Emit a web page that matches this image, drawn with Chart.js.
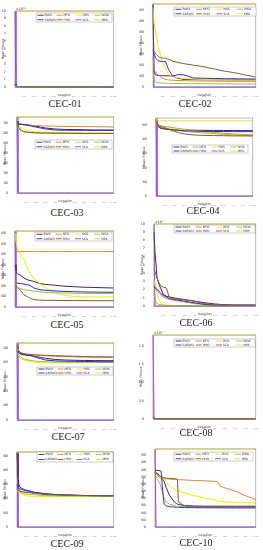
<!DOCTYPE html>
<html lang="en">
<head>
<meta charset="UTF-8">
<title>CEC convergence</title>
<script src="https://cdn.jsdelivr.net/npm/chart.js"></script>
<style>
  body { margin: 0; width: 263px; height: 550px; background: #fff; position: relative; overflow: hidden; }
  canvas { position: absolute; }
  .cap { position: absolute; font-family: 'Liberation Serif', serif; font-size: 10px; color: #222; transform: translate(-50%, -50%); white-space: nowrap; }
</style>
</head>
<body>
<script>
// legend names and series colours
const algos = ['BWO', 'MFO', 'HGS', 'WOA', 'SABWO', 'HHO', 'SCA', 'MPA'];
const colors = ['#4b2346', '#d08a3c', '#f2ea00', '#8cc63f', '#2a2ae0', '#8b5a2b', '#a23cf0', '#e4dc3a'];

// iterations sampled off the curves
const iters = [1, 2, 3, 4, 6, 8, 10, 13, 16, 20, 25, 30, 40, 50, 60, 70, 80, 90, 100];
const iters10 = [1, 2, 4, 6, 7, 8, 9, 10, 12, 15, 20, 22, 23, 24, 30, 40, 50, 62, 63, 65, 70, 80, 90, 100];
const xTicks = [10, 20, 30, 40, 50, 60, 70, 80, 90, 100];

// mean fitness, one row per algorithm (same order as algos)
const cec01 = [
  [0.35, 0.12, 0.08, 0.06, 0.05, 0.04, 0.04, 0.03, 0.03, 0.03, 0.02, 0.02, 0.02, 0.02, 0.02, 0.02, 0.02, 0.02, 0.02],
  [0.25, 0.10, 0.07, 0.05, 0.04, 0.03, 0.03, 0.03, 0.02, 0.02, 0.02, 0.02, 0.02, 0.01, 0.01, 0.01, 0.01, 0.01, 0.01],
  [0.30, 0.08, 0.05, 0.04, 0.03, 0.03, 0.02, 0.02, 0.02, 0.02, 0.02, 0.01, 0.01, 0.01, 0.01, 0.01, 0.01, 0.01, 0.01],
  [0.20, 0.06, 0.04, 0.03, 0.03, 0.02, 0.02, 0.02, 0.02, 0.01, 0.01, 0.01, 0.01, 0.01, 0.01, 0.01, 0.01, 0.01, 0.01],
  [0.40, 0.15, 0.10, 0.07, 0.05, 0.04, 0.03, 0.03, 0.02, 0.02, 0.02, 0.02, 0.01, 0.01, 0.01, 0.01, 0.01, 0.01, 0.01],
  [0.28, 0.11, 0.08, 0.06, 0.05, 0.04, 0.04, 0.03, 0.03, 0.03, 0.02, 0.02, 0.02, 0.02, 0.02, 0.02, 0.02, 0.02, 0.02],
  [9.95, 0, 0, 0, 0, 0, 0, 0, 0, 0, 0, 0, 0, 0, 0, 0, 0, 0, 0],
  [10, 10, 10, 10, 10, 10, 10, 10, 10, 10, 10, 10, 10, 10, 10, 10, 10, 10, 10]
];
const cec02 = [
  [7550, 1500, 1200, 1100, 1050, 1040, 1030, 1030, 1030, 1000, 800, 700, 680, 670, 660, 655, 650, 650, 650],
  [2800, 1600, 1430, 1300, 1100, 980, 800, 700, 650, 620, 600, 580, 560, 550, 540, 530, 525, 520, 520],
  [7200, 5800, 5400, 4800, 3700, 3000, 2300, 1700, 1150, 950, 850, 780, 720, 690, 670, 660, 650, 650, 650],
  [1500, 700, 500, 450, 400, 380, 360, 350, 340, 330, 320, 310, 300, 300, 290, 290, 280, 280, 280],
  [3400, 3000, 2800, 2600, 2400, 2340, 2340, 2340, 1600, 1000, 1130, 1130, 820, 800, 780, 760, 750, 740, 730],
  [3300, 3270, 3150, 3000, 2800, 2700, 2660, 2620, 2550, 2355, 2250, 2150, 2000, 1850, 1650, 1450, 1300, 1100, 917],
  [7600, 0, 0, 0, 0, 0, 0, 0, 0, 0, 0, 0, 0, 0, 0, 0, 0, 0, 0],
  [7600, 7600, 7600, 7600, 7600, 7600, 7600, 7600, 7600, 7600, 7600, 7600, 7600, 7600, 7600, 7600, 7600, 7600, 7600]
];
const cec03 = [
  [740, 700, 695, 690, 688, 686, 685, 680, 675, 670, 660, 650, 640, 635, 635, 632, 630, 630, 630],
  [700, 690, 688, 686, 684, 682, 680, 678, 676, 674, 672, 670, 668, 666, 665, 664, 663, 662, 660],
  [740, 700, 680, 665, 650, 640, 630, 620, 615, 612, 610, 608, 606, 605, 604, 603, 602, 601, 600],
  [700, 660, 640, 630, 620, 612, 608, 605, 603, 601, 600, 599, 598, 597, 597, 596, 596, 596, 596],
  [720, 690, 688, 686, 684, 682, 680, 675, 668, 660, 650, 640, 630, 628, 627, 627, 626, 626, 625],
  [690, 670, 655, 640, 625, 615, 610, 606, 604, 602, 600, 600, 598, 597, 596, 595, 595, 595, 595],
  [760, 0, 0, 0, 0, 0, 0, 0, 0, 0, 0, 0, 0, 0, 0, 0, 0, 0, 0],
  [760, 760, 760, 760, 760, 760, 760, 760, 760, 760, 760, 760, 760, 760, 760, 760, 760, 760, 760]
];
const cec04 = [
  [1080, 1040, 1000, 980, 960, 955, 950, 945, 940, 935, 932, 930, 928, 926, 925, 924, 923, 922, 922],
  [1060, 1040, 1020, 1000, 990, 985, 980, 975, 970, 960, 950, 940, 925, 910, 895, 885, 875, 868, 861],
  [1090, 1040, 1010, 990, 975, 965, 960, 955, 950, 945, 940, 930, 915, 900, 885, 870, 860, 855, 850],
  [1060, 1000, 980, 965, 955, 948, 944, 940, 936, 930, 920, 910, 900, 890, 880, 870, 862, 856, 850],
  [1070, 1030, 990, 970, 955, 950, 945, 940, 935, 930, 925, 920, 915, 912, 910, 909, 908, 908, 908],
  [1050, 1020, 1000, 990, 980, 970, 960, 950, 930, 910, 890, 875, 860, 855, 852, 850, 848, 847, 847],
  [1100, 0, 0, 0, 0, 0, 0, 0, 0, 0, 0, 0, 0, 0, 0, 0, 0, 0, 0],
  [1060, 1060, 1060, 1060, 1060, 1060, 1060, 1060, 1060, 1060, 1060, 1060, 1060, 1060, 1060, 1060, 1060, 1060, 1060]
];
const cec05 = [
  [8000, 6800, 6400, 6200, 6100, 5800, 5500, 5200, 5000, 4850, 4500, 4300, 4150, 3950, 3850, 3750, 3700, 3650, 3600],
  [10500, 10500, 10500, 10500, 10500, 10500, 10500, 10500, 10500, 10500, 10500, 10500, 10500, 10500, 10500, 10500, 10500, 10500, 10500],
  [14000, 12500, 11500, 10800, 10200, 9500, 9000, 7600, 6500, 5400, 4600, 3800, 2800, 2200, 2000, 1900, 1890, 1890, 1890],
  [5000, 4200, 3900, 3700, 3500, 3400, 3300, 3200, 3100, 3000, 2900, 2800, 2700, 2650, 2600, 2580, 2560, 2550, 2540],
  [4600, 4550, 4540, 4500, 4450, 4400, 4300, 4230, 4100, 3600, 3300, 3200, 3050, 2960, 2900, 2850, 2820, 2800, 2780],
  [4100, 4000, 3700, 3500, 3280, 2800, 2300, 2000, 1700, 1400, 1300, 1280, 1250, 1230, 1220, 1210, 1200, 1200, 1200],
  [14400, 0, 0, 0, 0, 0, 0, 0, 0, 0, 0, 0, 0, 0, 0, 0, 0, 0, 0],
  [14400, 14400, 14400, 14400, 14400, 14400, 14400, 14400, 14400, 14400, 14400, 14400, 14400, 14400, 14400, 14400, 14400, 14400, 14400]
];
const cec06 = [
  [9.0, 6.5, 5.0, 3.4, 2.6, 2.0, 1.4, 1.2, 1.1, 1.0, 0.9, 0.8, 0.6, 0.4, 0.25, 0.15, 0.1, 0.1, 0.1],
  [3.0, 2.6, 2.3, 2.0, 1.6, 1.3, 1.1, 0.9, 0.8, 0.7, 0.6, 0.5, 0.3, 0.2, 0.15, 0.1, 0.1, 0.1, 0.1],
  [3.2, 2.6, 2.0, 1.6, 0.8, 0.3, 0.15, 0.1, 0.08, 0.06, 0.05, 0.05, 0.05, 0.05, 0.05, 0.05, 0.05, 0.05, 0.05],
  [1.5, 0.8, 0.5, 0.3, 0.2, 0.15, 0.1, 0.08, 0.07, 0.06, 0.05, 0.05, 0.05, 0.05, 0.05, 0.05, 0.05, 0.05, 0.05],
  [2.4, 2.2, 2.1, 2.0, 1.8, 1.5, 1.3, 1.1, 0.9, 0.8, 0.7, 0.6, 0.4, 0.2, 0.12, 0.1, 0.1, 0.1, 0.1],
  [4.6, 4.2, 3.8, 3.4, 2.8, 2.4, 2.3, 2.2, 1.0, 0.9, 0.8, 0.75, 0.6, 0.3, 0.15, 0.1, 0.1, 0.1, 0.1],
  [10, 0, 0, 0, 0, 0, 0, 0, 0, 0, 0, 0, 0, 0, 0, 0, 0, 0, 0],
  [10, 10, 10, 10, 10, 10, 10, 10, 10, 10, 10, 10, 10, 10, 10, 10, 10, 10, 10]
];
const cec07 = [
  [2450, 2400, 2350, 2300, 2270, 2260, 2250, 2240, 2230, 2200, 2170, 2140, 2100, 2080, 2070, 2065, 2060, 2058, 2058],
  [2500, 2400, 2350, 2320, 2300, 2290, 2280, 2270, 2260, 2250, 2240, 2230, 2210, 2200, 2190, 2180, 2175, 2172, 2170],
  [2450, 2300, 2200, 2150, 2100, 2080, 2060, 2040, 2020, 2000, 1990, 1985, 1980, 1980, 1985, 1990, 1995, 2000, 2000],
  [2400, 2300, 2250, 2200, 2150, 2120, 2100, 2080, 2060, 2040, 2030, 2020, 2010, 2005, 2000, 2000, 2000, 2000, 2000],
  [2400, 2350, 2320, 2300, 2280, 2270, 2260, 2240, 2220, 2180, 2130, 2080, 2050, 2040, 2035, 2030, 2025, 2020, 2020],
  [2550, 2450, 2400, 2350, 2320, 2300, 2290, 2280, 2270, 2260, 2250, 2240, 2230, 2220, 2210, 2200, 2195, 2190, 2185],
  [2670, 0, 0, 0, 0, 0, 0, 0, 0, 0, 0, 0, 0, 0, 0, 0, 0, 0, 0],
  [2670, 2670, 2670, 2670, 2670, 2670, 2670, 2670, 2670, 2670, 2670, 2670, 2670, 2670, 2670, 2670, 2670, 2670, 2670]
];
const cec08 = [
  [0.05, 0.02, 0.01, 0.01, 0.01, 0.01, 0.01, 0.01, 0.01, 0.01, 0.01, 0.01, 0.01, 0.01, 0.01, 0.01, 0.01, 0.01, 0.01],
  [0.04, 0.02, 0.01, 0.01, 0.01, 0.01, 0.01, 0.01, 0.01, 0.01, 0.01, 0.01, 0.01, 0.01, 0.01, 0.01, 0.01, 0.01, 0.01],
  [0.06, 0.02, 0.01, 0.01, 0.01, 0.01, 0.01, 0.01, 0.01, 0.01, 0.01, 0.01, 0.01, 0.01, 0.01, 0.01, 0.01, 0.01, 0.01],
  [0.03, 0.01, 0.01, 0.01, 0.01, 0.01, 0.01, 0.01, 0.01, 0.01, 0.01, 0.01, 0.01, 0.01, 0.01, 0.01, 0.01, 0.01, 0.01],
  [0.05, 0.02, 0.02, 0.01, 0.01, 0.01, 0.01, 0.01, 0.01, 0.01, 0.01, 0.01, 0.01, 0.01, 0.01, 0.01, 0.01, 0.01, 0.01],
  [0.04, 0.02, 0.01, 0.01, 0.01, 0.01, 0.01, 0.01, 0.01, 0.01, 0.01, 0.01, 0.01, 0.01, 0.01, 0.01, 0.01, 0.01, 0.01],
  [2.3, 0, 0, 0, 0, 0, 0, 0, 0, 0, 0, 0, 0, 0, 0, 0, 0, 0, 0],
  [2.3, 2.3, 2.3, 2.3, 2.3, 2.3, 2.3, 2.3, 2.3, 2.3, 2.3, 2.3, 2.3, 2.3, 2.3, 2.3, 2.3, 2.3, 2.3]
];
const cec09 = [
  [5200, 3500, 3000, 2800, 2720, 2650, 2600, 2560, 2500, 2420, 2380, 2330, 2280, 2250, 2230, 2210, 2200, 2190, 2186],
  [2900, 2650, 2580, 2540, 2500, 2470, 2450, 2430, 2410, 2380, 2340, 2300, 2270, 2250, 2230, 2215, 2205, 2195, 2190],
  [2600, 2500, 2450, 2400, 2300, 2250, 2200, 2180, 2170, 2160, 2150, 2148, 2145, 2143, 2142, 2141, 2140, 2140, 2140],
  [2650, 2550, 2500, 2450, 2400, 2350, 2320, 2300, 2280, 2260, 2240, 2220, 2200, 2190, 2180, 2175, 2170, 2165, 2160],
  [3000, 2750, 2700, 2680, 2650, 2600, 2560, 2520, 2470, 2420, 2380, 2340, 2290, 2260, 2240, 2220, 2210, 2200, 2195],
  [2700, 2600, 2550, 2520, 2490, 2460, 2440, 2420, 2400, 2360, 2320, 2290, 2260, 2240, 2220, 2210, 2200, 2190, 2186],
  [5280, 0, 0, 0, 0, 0, 0, 0, 0, 0, 0, 0, 0, 0, 0, 0, 0, 0, 0],
  [5280, 5280, 5280, 5280, 5280, 5280, 5280, 5280, 5280, 5280, 5280, 5280, 5280, 5280, 5280, 5280, 5280, 5280, 5280]
];
const cec10 = [
  [7800, 7600, 7400, 7100, 7000, 6800, 6600, 6400, 5500, 4500, 3500, 3300, 3200, 3150, 3000, 2920, 2900, 2900, 2900, 2900, 2900, 2900, 2900, 2900],
  [7600, 7400, 7100, 6900, 6850, 6800, 6780, 6750, 6720, 6700, 6650, 6640, 6630, 6620, 6580, 6500, 6450, 6380, 6200, 5700, 5450, 5000, 4350, 3830],
  [7570, 7400, 7200, 7000, 6950, 6900, 6880, 6870, 6400, 5800, 5300, 5150, 5050, 5000, 4770, 4350, 4050, 3700, 3650, 3600, 3500, 3420, 3380, 3360],
  [7500, 7000, 6500, 6000, 5500, 5000, 4500, 4000, 3500, 3200, 3000, 2950, 2920, 2900, 2850, 2800, 2780, 2760, 2760, 2755, 2750, 2745, 2740, 2740],
  [7940, 7940, 7900, 7850, 7800, 6000, 4500, 3200, 2950, 2850, 2780, 2760, 2750, 2740, 2720, 2700, 2690, 2680, 2680, 2675, 2670, 2665, 2660, 2660],
  [7600, 7500, 7300, 7100, 7000, 6950, 6900, 6870, 6850, 6800, 6740, 6720, 6700, 3500, 2950, 2900, 2880, 2870, 2870, 2865, 2865, 2860, 2860, 2860],
  [10900, 0, 0, 0, 0, 0, 0, 0, 0, 0, 0, 0, 0, 0, 0, 0, 0, 0, 0, 0, 0, 0, 0, 0],
  [10900, 10900, 10900, 10900, 10900, 10900, 10900, 10900, 10900, 10900, 10900, 10900, 10900, 10900, 10900, 10900, 10900, 10900, 10900, 10900, 10900, 10900, 10900, 10900]
];

// y tick values
const ticks01 = [0, 1, 2, 3, 4, 5, 6, 7, 8, 9, 10];
const ticks02 = [0, 1000, 2000, 3000, 4000, 5000, 6000, 7000];
const ticks03 = [0, 100, 200, 300, 400, 500, 600, 700];
const ticks04 = [0, 200, 400, 600, 800, 1000];
const ticks05 = [0, 2000, 4000, 6000, 8000, 10000, 12000, 14000];
const ticks06 = [0, 1, 2, 3, 4, 5, 6, 7, 8, 9, 10];
const ticks07 = [0, 500, 1000, 1500, 2000, 2500];
const ticks08 = [0, 0.5, 1, 1.5, 2];
const ticks09 = [0, 1000, 2000, 3000, 4000, 5000];
const ticks10 = [0, 1000, 2000, 3000, 4000, 5000, 6000, 7000, 8000, 9000, 10000];

// page layout: plot box [l,t,r,b], caption [x,y], legend box [l,t,r,b]
const panels = [
  { name: 'CEC-01', data: cec01, x: iters, yt: ticks01, box: [15, 11, 115, 87], cap: [65, 103], leg: [36, 13, 112, 22], exp: '×10¹¹' },
  { name: 'CEC-02', data: cec02, x: iters, yt: ticks02, box: [153, 4, 257, 87], cap: [195, 103], leg: [174, 7, 256, 16] },
  { name: 'CEC-03', data: cec03, x: iters, yt: ticks03, box: [17, 117, 115, 193], cap: [67, 212], leg: [35, 140, 112, 149] },
  { name: 'CEC-04', data: cec04, x: iters, yt: ticks04, box: [156, 118, 254, 196], cap: [203, 210], leg: [172, 145, 248, 153] },
  { name: 'CEC-05', data: cec05, x: iters, yt: ticks05, box: [15, 231, 115, 307], cap: [67, 324], leg: [35, 232, 112, 241] },
  { name: 'CEC-06', data: cec06, x: iters, yt: ticks06, box: [154, 224, 257, 306], cap: [196, 322], leg: [174, 225, 255, 233], exp: '×10⁴' },
  { name: 'CEC-07', data: cec07, x: iters, yt: ticks07, box: [17, 343, 115, 420], cap: [68, 436], leg: [37, 367, 113, 375] },
  { name: 'CEC-08', data: cec08, x: iters, yt: ticks08, box: [153, 335, 257, 419], cap: [196, 432], leg: [174, 339, 255, 347], exp: '×10⁵' },
  { name: 'CEC-09', data: cec09, x: iters, yt: ticks09, box: [17, 452, 115, 527], cap: [67, 543], leg: [37, 452, 113, 462] },
  { name: 'CEC-10', data: cec10, x: iters10, yt: ticks10, box: [155, 449, 257, 527], cap: [196, 542], leg: [174, 452, 253, 461] }
];

const padL = 14, padT = 8, padR = 3, padB = 10;
const axisCol = '#8a8a8a';
const tickFont = { family: 'DejaVu Sans', size: 3.4 };

// box around plot + legend drawn inside the axes, matlab style
const boxLegend = {
  id: 'boxLegend',
  afterDatasetsDraw(chart, args, opts) {
    const ctx = chart.ctx, a = chart.chartArea;
    ctx.save();
    ctx.strokeStyle = axisCol;
    ctx.lineWidth = 0.6;
    ctx.strokeRect(a.left, a.top, a.right - a.left, a.bottom - a.top);

    if (opts.exp) {
      ctx.fillStyle = '#333';
      ctx.font = '3.4px "DejaVu Sans"';
      ctx.textBaseline = 'bottom';
      ctx.fillText(opts.exp, a.left + 1, a.top - 0.5);
    }

    const [l, t, r, b] = opts.leg;
    const x0 = l - opts.ox, y0 = t - opts.oy, w = r - l, h = b - t;
    ctx.fillStyle = '#fff';
    ctx.fillRect(x0, y0, w, h);
    ctx.strokeStyle = '#9a9a9a';
    ctx.lineWidth = 0.5;
    ctx.strokeRect(x0, y0, w, h);
    ctx.font = '3px "DejaVu Sans"';
    ctx.textBaseline = 'middle';
    const cw = w / 4;
    chart.data.datasets.forEach(function (ds, i) {
      const col = i % 4, row = Math.floor(i / 4);
      const ex = x0 + col * cw + 1.5;
      const ey = y0 + h * (row + 0.5) / 2;
      ctx.strokeStyle = ds.borderColor;
      ctx.lineWidth = 0.9;
      ctx.beginPath();
      ctx.moveTo(ex, ey);
      ctx.lineTo(ex + 6, ey);
      ctx.stroke();
      ctx.fillStyle = '#333';
      ctx.fillText(ds.label, ex + 7, ey);
    });
    ctx.restore();
  }
};

function makePanel(p) {
  const [l, t, r, b] = p.box;
  const w = r - l + padL + padR, h = b - t + padT + padB;
  const cv = document.createElement('canvas');
  cv.width = w;
  cv.height = h;
  cv.style.left = (l - padL) + 'px';
  cv.style.top = (t - padT) + 'px';
  cv.style.width = w + 'px';
  cv.style.height = h + 'px';
  document.body.appendChild(cv);

  // axis tight -> top of y range is the largest value
  const yMax = Math.max(...p.data.flat());

  const datasets = p.data.map(function (s, i) {
    return {
      label: algos[i],
      data: s.map((y, k) => ({ x: p.x[k], y: y })),
      borderColor: colors[i],
      borderWidth: 1,
      pointRadius: 0,
      tension: 0,
      // SCA sits underneath, the rest stack like matlab (last plotted on top)
      order: i === 6 ? 20 : algos.length - i,
      clip: 1
    };
  });

  new Chart(cv, {
    type: 'line',
    data: { datasets: datasets },
    options: {
      responsive: false,
      animation: false,
      devicePixelRatio: 1,
      layout: { padding: { top: padT, right: padR, left: 0, bottom: 0 } },
      plugins: {
        legend: { display: false },
        tooltip: { enabled: false },
        boxLegend: { leg: p.leg, exp: p.exp, ox: l - padL, oy: t - padT }
      },
      scales: {
        x: {
          type: 'linear', min: 1, max: 100,
          afterBuildTicks: s => { s.ticks = xTicks.map(v => ({ value: v })); },
          afterFit: s => { s.height = padB; },
          grid: { display: false },
          border: { color: axisCol, width: 0.6 },
          ticks: { font: tickFont, color: '#333', padding: 1, maxRotation: 0, autoSkip: false },
          title: { display: true, text: 'Iteration', font: { family: 'DejaVu Sans', size: 3.2 }, color: '#333', padding: 0 }
        },
        y: {
          min: 0, max: yMax,
          afterBuildTicks: s => { s.ticks = p.yt.map(v => ({ value: v })); },
          afterFit: s => { s.width = padL; },
          grid: { display: false },
          border: { color: axisCol, width: 0.6 },
          ticks: { font: tickFont, color: '#333', padding: 1, autoSkip: false },
          title: { display: true, text: 'Mean Fitness', font: { family: 'DejaVu Sans', size: 3.2 }, color: '#333', padding: 0 }
        }
      }
    },
    plugins: [boxLegend]
  });

  const cap = document.createElement('div');
  cap.className = 'cap';
  cap.textContent = p.name;
  cap.style.left = p.cap[0] + 'px';
  cap.style.top = p.cap[1] + 'px';
  document.body.appendChild(cap);
}

panels.forEach(makePanel);
</script>
</body>
</html>
